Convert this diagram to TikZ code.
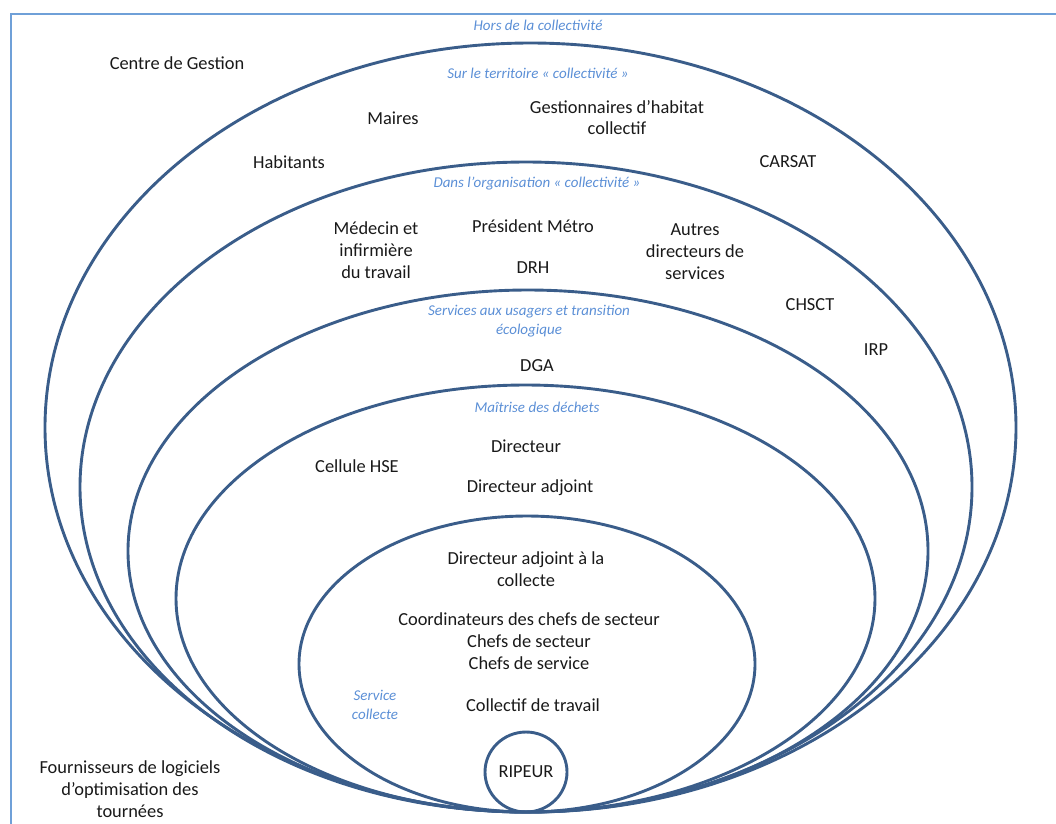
\documentclass[tikz,border=0pt]{standalone}
\usepackage{fontspec}
\setmainfont{Carlito}
\usetikzlibrary{shapes.geometric}
\definecolor{ringblue}{HTML}{3A5D8A}
\definecolor{lblue}{HTML}{5B8FD6}
\definecolor{frameblue}{HTML}{6FA0D8}
\begin{document}
\begin{tikzpicture}[x=1pt,y=-1pt,
 ring/.style={ellipse, draw=ringblue, line width=2.9pt, inner sep=0pt, outer sep=0pt},
 lab/.style={font=\fontsize{18.4}{21.8}\selectfont, align=center, text=black!90, inner sep=0pt},
 zone/.style={font=\fontsize{15}{19}\selectfont\itshape, align=center, text=lblue, inner sep=0pt}]
\useasboundingbox (0,0) rectangle (1056,823);
\clip (0,0) rectangle (1056,823);
\draw[frameblue, line width=1.3pt] (11,14) rectangle (1090,860);
% rings
\node[ring, minimum width=971pt, minimum height=769pt] (e1) at (530.5,427.5) {};
\node[ring, minimum width=892pt, minimum height=650pt] (e2) at (526,487) {};
\node[ring, minimum width=800pt, minimum height=522pt] (e3) at (528,551) {};
\node[ring, minimum width=699pt, minimum height=427pt] (e4) at (525.5,598.5) {};
\node[ring, minimum width=456pt, minimum height=296pt] (e5) at (527,664) {};
\node[ring, minimum width=82pt, minimum height=80pt] (rip) at (526,772) {};
\node[lab] (ripl) at (526,772) {RIPEUR};
% zone labels
\node[zone] (z0) at (538,25) {Hors de la collectivité};
\node[zone] (z1) at (538,73) {Sur le territoire « collectivité »};
\node[zone] (z2) at (537,184) {Dans l’organisation « collectivité »};
\node[zone] (z3) at (529,321.5) {Services aux usagers et transition\\écologique};
\node[zone] (z4) at (537,407) {Maîtrise des déchets};
\node[zone] (z5) at (375,704.5) {Service\\collecte};
% labels
\node[lab] (cdg) at (177,63) {Centre de Gestion};
\node[lab] (mai) at (393,118) {Maires};
\node[lab] (ges) at (617,117.5) {Gestionnaires d’habitat\\collectif};
\node[lab] (hab) at (289,162) {Habitants};
\node[lab] (car) at (788,162) {CARSAT};
\node[lab] (med) at (376,250) {Médecin et\\infirmière\\du travail};
\node[lab] (pre) at (533,226) {Président Métro};
\node[lab] (drh) at (533,268) {DRH};
\node[lab] (aut) at (695,251.5) {Autres\\directeurs de\\services};
\node[lab] (chs) at (810,305) {CHSCT};
\node[lab] (irp) at (876,350) {IRP};
\node[lab] (dga) at (537,366) {DGA};
\node[lab] (dir) at (526,446) {Directeur};
\node[lab] (hse) at (357,466) {Cellule HSE};
\node[lab] (dad) at (530,488) {Directeur adjoint};
\node[lab] (dac) at (526,569) {Directeur adjoint à la\\collecte};
\node[lab] (coo) at (529,641) {Coordinateurs des chefs de secteur\\Chefs de secteur\\Chefs de service};
\node[lab] (col) at (533,705) {Collectif de travail};
\node[lab] (fou) at (130,789) {Fournisseurs de logiciels\\d’optimisation des\\tournées};
\end{tikzpicture}
\end{document}
